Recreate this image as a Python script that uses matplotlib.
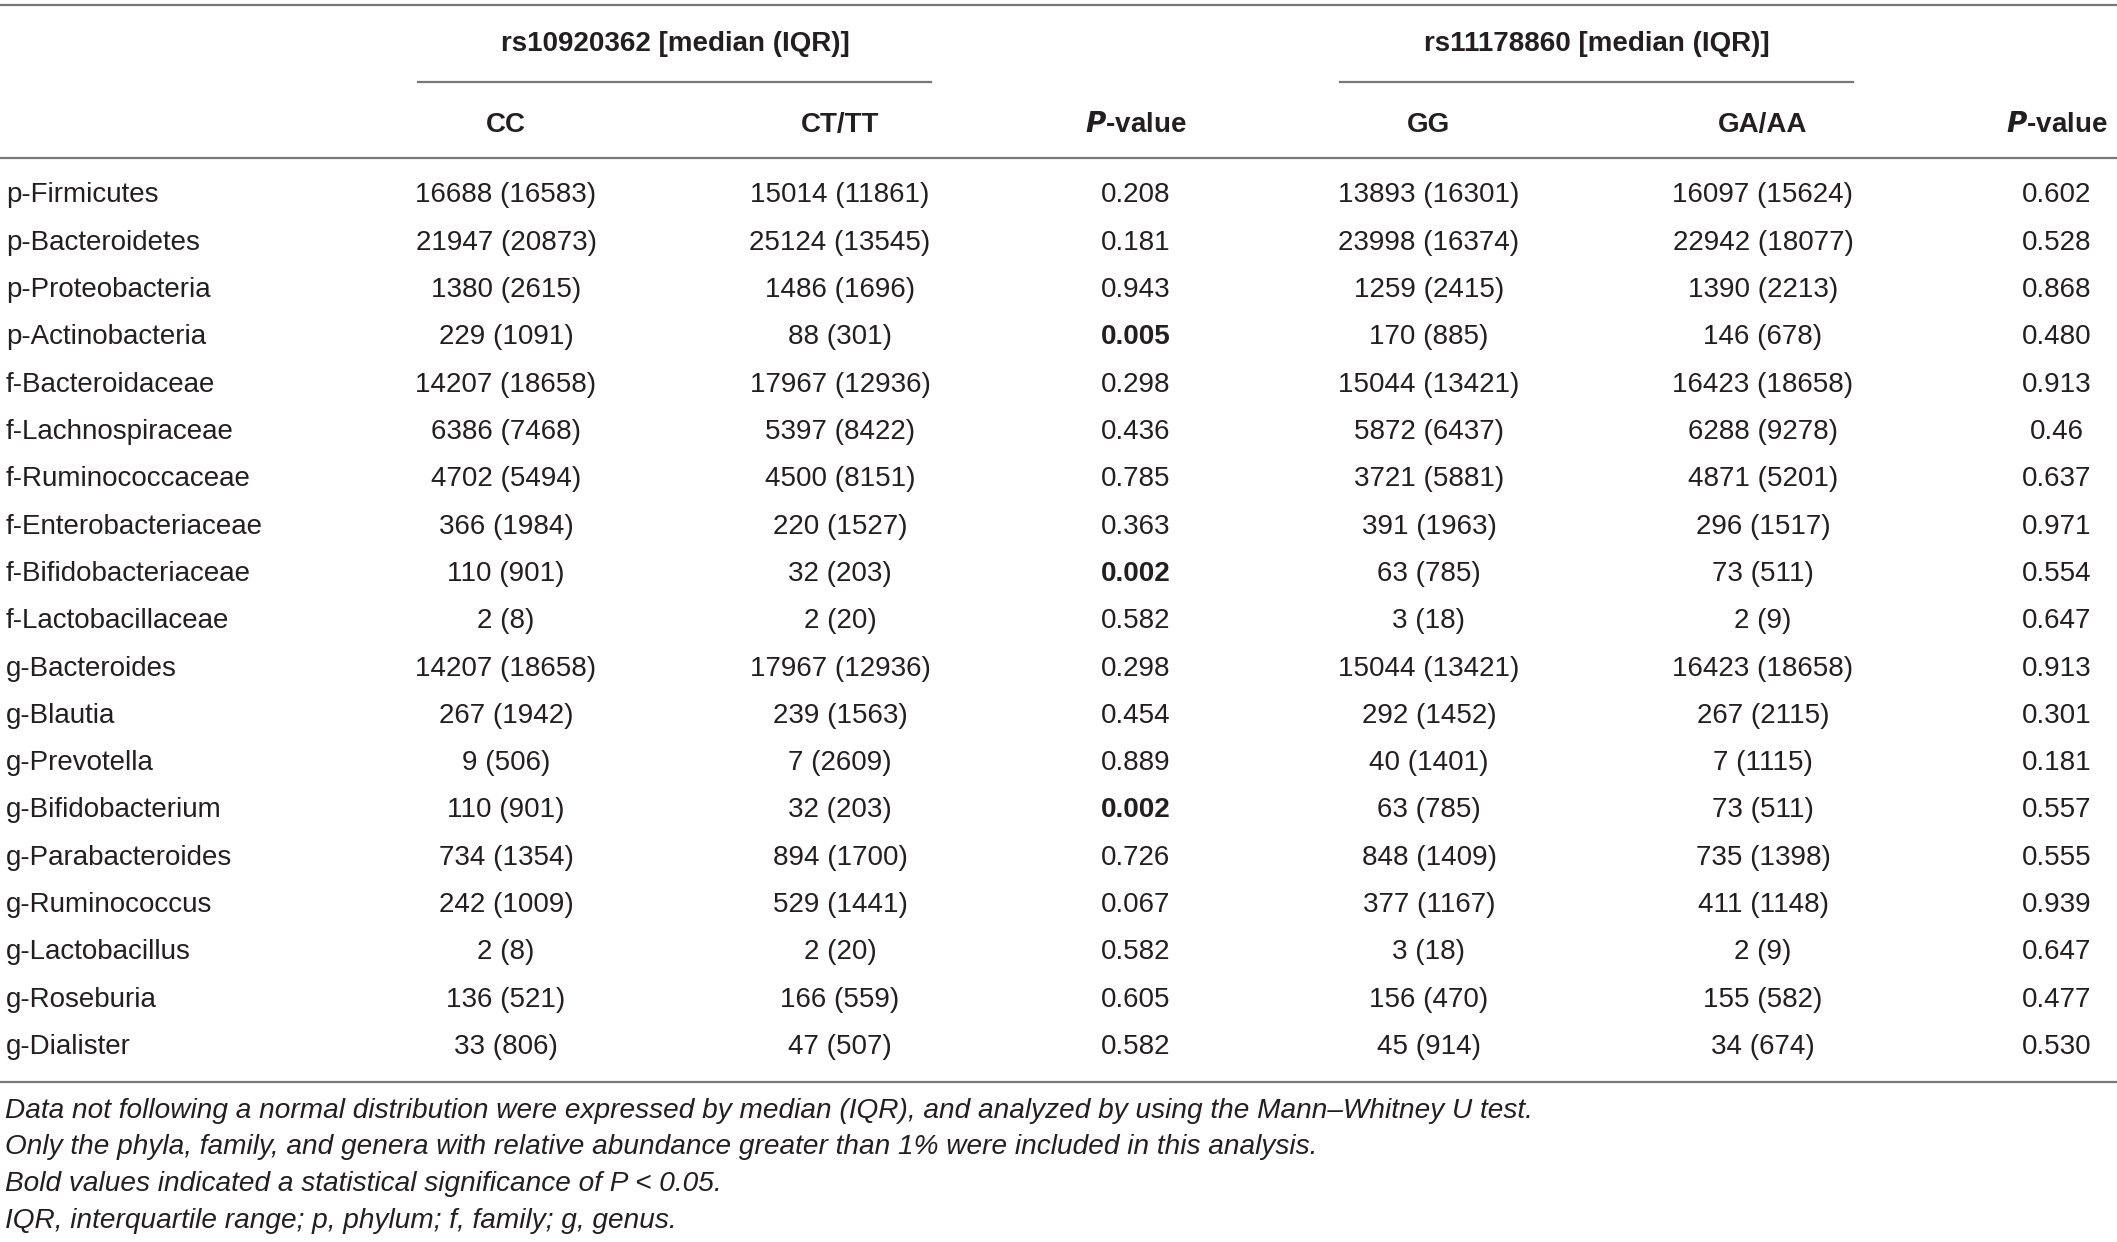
import matplotlib.pyplot as plt

plt.rcParams['font.family'] = ['Liberation Sans', 'DejaVu Sans']

# table content
taxa = ["p-Firmicutes", "p-Bacteroidetes", "p-Proteobacteria", "p-Actinobacteria",
        "f-Bacteroidaceae", "f-Lachnospiraceae", "f-Ruminococcaceae", "f-Enterobacteriaceae",
        "f-Bifidobacteriaceae", "f-Lactobacillaceae", "g-Bacteroides", "g-Blautia",
        "g-Prevotella", "g-Bifidobacterium", "g-Parabacteroides", "g-Ruminococcus",
        "g-Lactobacillus", "g-Roseburia", "g-Dialister"]
cc = ["16688 (16583)", "21947 (20873)", "1380 (2615)", "229 (1091)", "14207 (18658)",
      "6386 (7468)", "4702 (5494)", "366 (1984)", "110 (901)", "2 (8)", "14207 (18658)",
      "267 (1942)", "9 (506)", "110 (901)", "734 (1354)", "242 (1009)", "2 (8)",
      "136 (521)", "33 (806)"]
ct_tt = ["15014 (11861)", "25124 (13545)", "1486 (1696)", "88 (301)", "17967 (12936)",
         "5397 (8422)", "4500 (8151)", "220 (1527)", "32 (203)", "2 (20)", "17967 (12936)",
         "239 (1563)", "7 (2609)", "32 (203)", "894 (1700)", "529 (1441)", "2 (20)",
         "166 (559)", "47 (507)"]
p1 = ["0.208", "0.181", "0.943", "0.005", "0.298", "0.436", "0.785", "0.363", "0.002",
      "0.582", "0.298", "0.454", "0.889", "0.002", "0.726", "0.067", "0.582", "0.605", "0.582"]
gg = ["13893 (16301)", "23998 (16374)", "1259 (2415)", "170 (885)", "15044 (13421)",
      "5872 (6437)", "3721 (5881)", "391 (1963)", "63 (785)", "3 (18)", "15044 (13421)",
      "292 (1452)", "40 (1401)", "63 (785)", "848 (1409)", "377 (1167)", "3 (18)",
      "156 (470)", "45 (914)"]
ga_aa = ["16097 (15624)", "22942 (18077)", "1390 (2213)", "146 (678)", "16423 (18658)",
         "6288 (9278)", "4871 (5201)", "296 (1517)", "73 (511)", "2 (9)", "16423 (18658)",
         "267 (2115)", "7 (1115)", "73 (511)", "735 (1398)", "411 (1148)", "2 (9)",
         "155 (582)", "34 (674)"]
p2 = ["0.602", "0.528", "0.868", "0.480", "0.913", "0.46", "0.637", "0.971", "0.554",
      "0.647", "0.913", "0.301", "0.181", "0.557", "0.555", "0.939", "0.647", "0.477", "0.530"]
bold_p1 = [3, 8, 13]

groups = ["rs10920362 [median (IQR)]", "rs11178860 [median (IQR)]"]
footnotes = [
    "Data not following a normal distribution were expressed by median (IQR), and analyzed by using the Mann\u2013Whitney U test.",
    "Only the phyla, family, and genera with relative abundance greater than 1% were included in this analysis.",
    "Bold values indicated a statistical significance of P < 0.05.",
    "IQR, interquartile range; p, phylum; f, family; g, genus.",
]

W, H = 2117, 1242
FS = 20
TXT = "#231f20"
LINE = "#777777"

fig = plt.figure(figsize=(W / 100, H / 100), dpi=100)
ax = fig.add_axes([0, 0, 1, 1])
ax.set_xlim(0, W)
ax.set_ylim(H, 0)
ax.axis("off")

col_x = [506, 840, 1136, 1429, 1763, 2057]
cols = [cc, ct_tt, p1, gg, ga_aa, p2]

# rules
ax.plot([0, W], [5, 5], color=LINE, lw=1.6)
ax.plot([0, W], [158, 158], color=LINE, lw=1.6)
ax.plot([0, W], [1082, 1082], color=LINE, lw=1.6)
ax.plot([418, 931], [82, 82], color=LINE, lw=1.6)
ax.plot([1340, 1853], [82, 82], color=LINE, lw=1.6)

# header
ax.text(675, 44, groups[0], ha="center", va="center", fontsize=FS, fontweight="bold", color=TXT)
ax.text(1597, 44, groups[1], ha="center", va="center", fontsize=FS, fontweight="bold", color=TXT)
heads = ["CC", "CT/TT", r"$\bfit{P}$-value", "GG", "GA/AA", r"$\bfit{P}$-value"]
for x, h in zip(col_x, heads):
    ax.text(x, 125, h, ha="center", va="center", fontsize=FS, fontweight="bold", color=TXT)

# body
y0, dy = 195.5, 47.3
for i, name in enumerate(taxa):
    y = y0 + i * dy
    ax.text(6, y, name, ha="left", va="center", fontsize=FS, color=TXT)
    for j, (x, col) in enumerate(zip(col_x, cols)):
        wt = "bold" if (j == 2 and i in bold_p1) else "normal"
        ax.text(x, y, col[i], ha="center", va="center", fontsize=FS, fontweight=wt, color=TXT)

# footnotes
for k, note in enumerate(footnotes):
    ax.text(5, 1111 + k * 36.5, note, ha="left", va="center", fontsize=20.2,
            style="italic", color=TXT)

fig.savefig("out.png", dpi=100)
